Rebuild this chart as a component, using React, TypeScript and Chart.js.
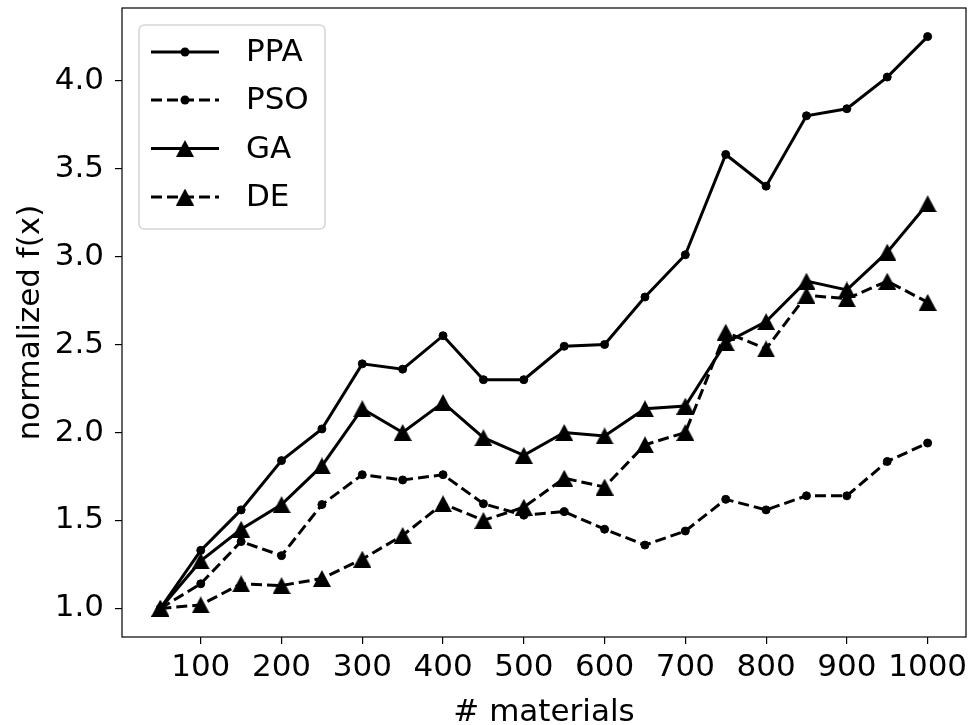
import React, { useEffect, useRef } from "react";
import { Chart, registerables } from "chart.js";

Chart.register(...registerables);

const materials = [50, 100, 150, 200, 250, 300, 350, 400, 450, 500, 550, 600, 650, 700, 750, 800, 850, 900, 950, 1000];
const ppa = [1.0, 1.33, 1.56, 1.84, 2.02, 2.39, 2.36, 2.55, 2.3, 2.3, 2.49, 2.5, 2.77, 3.01, 3.58, 3.4, 3.8, 3.84, 4.02, 4.25];
const pso = [1.0, 1.14, 1.38, 1.3, 1.59, 1.76, 1.73, 1.76, 1.595, 1.53, 1.55, 1.45, 1.36, 1.44, 1.62, 1.56, 1.64, 1.64, 1.835, 1.94];
const ga = [1.0, 1.27, 1.45, 1.59, 1.81, 2.135, 2.0, 2.17, 1.97, 1.87, 2.0, 1.98, 2.135, 2.15, 2.51, 2.63, 2.86, 2.81, 3.025, 3.3];
const de = [1.0, 1.02, 1.14, 1.13, 1.17, 1.28, 1.415, 1.595, 1.5, 1.575, 1.74, 1.69, 1.93, 2.0, 2.57, 2.475, 2.78, 2.76, 2.86, 2.74];
const seriesNames = ["PPA", "PSO", "GA", "DE"];
const xTicks = [100, 200, 300, 400, 500, 600, 700, 800, 900, 1000];
const yTicks = [1.0, 1.5, 2.0, 2.5, 3.0, 3.5, 4.0];
const xTitle = "# materials";
const yTitle = "normalized f(x)";

const FONT = "'DejaVu Sans', sans-serif";
const FS = 31;

function makeTriangle(): HTMLCanvasElement {
  const c = document.createElement("canvas");
  c.width = 18;
  c.height = 17;
  const ctx = c.getContext("2d")!;
  ctx.fillStyle = "#000";
  ctx.beginPath();
  ctx.moveTo(9, 0);
  ctx.lineTo(18, 17);
  ctx.lineTo(0, 17);
  ctx.closePath();
  ctx.fill();
  return c;
}

export default function App() {
  const ref = useRef<HTMLCanvasElement>(null);
  useEffect(() => {
    const tri = makeTriangle();
    const pts = (ys: number[]) => materials.map((x, i) => ({ x, y: ys[i] }));
    const dash = [11, 5];
    const styles = [
      { data: ppa, dashed: false, marker: "circle" },
      { data: pso, dashed: true, marker: "circle" },
      { data: ga, dashed: false, marker: "tri" },
      { data: de, dashed: true, marker: "tri" },
    ];
    const datasets = styles.map((s, i) => ({
      label: seriesNames[i],
      data: pts(s.data),
      borderColor: "#000",
      backgroundColor: "#000",
      borderWidth: 3,
      borderDash: s.dashed ? dash : [],
      pointStyle: s.marker === "circle" ? "circle" : tri,
      pointRadius: s.marker === "circle" ? 4 : 9,
      pointBorderWidth: s.marker === "circle" ? 1 : 0,
      pointBackgroundColor: "#000",
      pointBorderColor: "#000",
      tension: 0,
      order: 4 - i,
    }));

    const frameLegend = {
      id: "frameLegend",
      afterDraw(chart: any) {
        const ctx = chart.ctx;
        const a = chart.chartArea;
        ctx.save();
        ctx.strokeStyle = "#000";
        ctx.lineWidth = 1.2;
        ctx.strokeRect(a.left, a.top, a.right - a.left, a.bottom - a.top);
        // legend
        const bx = 139, by = 25, bw = 186, bh = 204, r = 6;
        ctx.beginPath();
        ctx.moveTo(bx + r, by);
        ctx.lineTo(bx + bw - r, by);
        ctx.quadraticCurveTo(bx + bw, by, bx + bw, by + r);
        ctx.lineTo(bx + bw, by + bh - r);
        ctx.quadraticCurveTo(bx + bw, by + bh, bx + bw - r, by + bh);
        ctx.lineTo(bx + r, by + bh);
        ctx.quadraticCurveTo(bx, by + bh, bx, by + bh - r);
        ctx.lineTo(bx, by + r);
        ctx.quadraticCurveTo(bx, by, bx + r, by);
        ctx.closePath();
        ctx.fillStyle = "rgba(255,255,255,0.8)";
        ctx.fill();
        ctx.strokeStyle = "#d5d5d5";
        ctx.lineWidth = 1.5;
        ctx.stroke();
        const rows = [52, 100, 148.5, 197];
        chart.data.datasets.forEach((d: any, i: number) => {
          const y = rows[i];
          ctx.strokeStyle = "#000";
          ctx.lineWidth = 3;
          ctx.setLineDash(d.borderDash);
          ctx.beginPath();
          ctx.moveTo(151, y);
          ctx.lineTo(219, y);
          ctx.stroke();
          ctx.setLineDash([]);
          if (d.pointStyle === "circle") {
            ctx.fillStyle = "#000";
            ctx.beginPath();
            ctx.arc(185, y, 4.5, 0, Math.PI * 2);
            ctx.fill();
          } else {
            ctx.drawImage(d.pointStyle, 185 - 9, y - 8.5);
          }
          ctx.fillStyle = "#000";
          ctx.font = `${FS}px ${FONT}`;
          ctx.textAlign = "left";
          ctx.textBaseline = "middle";
          ctx.fillText(d.label, 246, y + 1);
        });
        ctx.restore();
      },
    };

    const chart = new Chart(ref.current!, {
      type: "line",
      data: { datasets },
      options: {
        animation: false,
        responsive: false,
        layout: { autoPadding: false, padding: { top: 8, right: 5, left: 0, bottom: 0 } },
        plugins: { legend: { display: false }, tooltip: { enabled: false } },
        scales: {
          x: {
            type: "linear",
            min: 2.5,
            max: 1047.5,
            afterFit: (s: any) => { s.height = 88; s.paddingLeft = 0; s.paddingRight = 0; },
            afterBuildTicks: (s: any) => { s.ticks = xTicks.map((v) => ({ value: v })); },
            border: { display: false },
            grid: { drawOnChartArea: false, drawTicks: true, tickLength: 7, color: "#000", lineWidth: 1.2 },
            ticks: { color: "#000", font: { family: FONT, size: FS }, padding: 5, maxRotation: 0, autoSkip: false, callback: (v: any) => String(v) },
            title: { display: true, text: xTitle, color: "#000", font: { family: FONT, size: FS }, padding: { top: 0, bottom: -7 } },
          },
          y: {
            type: "linear",
            min: 0.8375,
            max: 4.4125,
            afterFit: (s: any) => { s.width = 122; s.paddingTop = 0; s.paddingBottom = 0; },
            afterBuildTicks: (s: any) => { s.ticks = yTicks.map((v) => ({ value: v })); },
            border: { display: false },
            grid: { drawOnChartArea: false, drawTicks: true, tickLength: 7, color: "#000", lineWidth: 1.2 },
            ticks: { color: "#000", font: { family: FONT, size: FS }, padding: 11, autoSkip: false, callback: (v: any) => Number(v).toFixed(1) },
            title: { display: true, text: yTitle, color: "#000", font: { family: FONT, size: FS }, padding: { top: 12, bottom: 0 } },
          },
        },
      },
      plugins: [frameLegend],
    } as any);
    return () => chart.destroy();
  }, []);
  return (
    <div style={{ position: "absolute", left: 0, top: 0, width: 971, height: 725, background: "#fff" }}>
      <canvas ref={ref} width={971} height={725} style={{ width: 971, height: 725, display: "block" }} />
    </div>
  );
}
